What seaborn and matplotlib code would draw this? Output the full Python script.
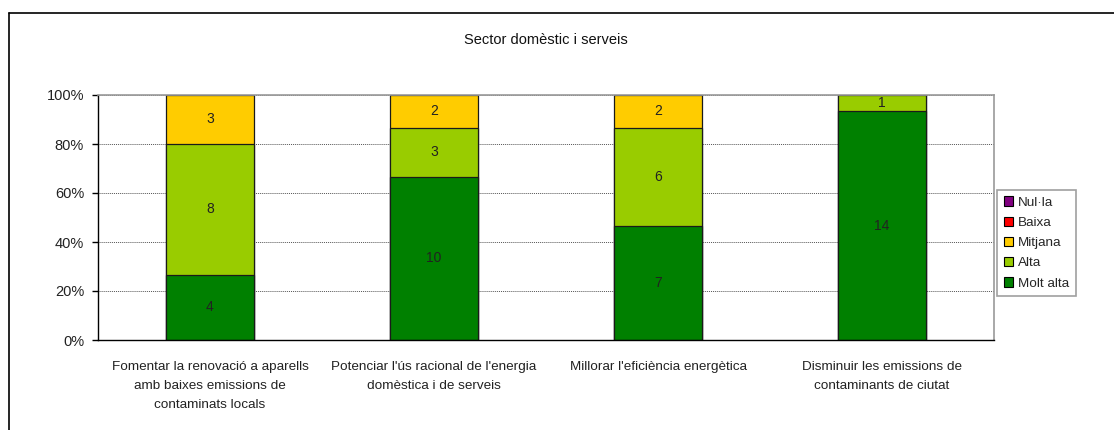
import numpy as np
import pandas as pd
import matplotlib
matplotlib.use("Agg")
import matplotlib.pyplot as plt
import seaborn as sns
from matplotlib.patches import Patch
from matplotlib.lines import Line2D
from matplotlib.ticker import FixedLocator, PercentFormatter

categories = [
    "Fomentar la renovació a aparells\namb baixes emissions de\ncontaminats locals",
    "Potenciar l'ús racional de l'energia\ndomèstica i de serveis",
    "Millorar l'eficiència energètica",
    "Disminuir les emissions de\ncontaminants de ciutat",
]
series_names = ["Nul·la", "Baixa", "Mitjana", "Alta", "Molt alta"]
nulla = [0, 0, 0, 0]
baixa = [0, 0, 0, 0]
mitjana = [3, 2, 2, 0]
alta = [8, 3, 6, 1]
molt_alta = [4, 10, 7, 14]
colors = {"Nul·la": "#800080", "Baixa": "#FF0000", "Mitjana": "#FFCC00",
          "Alta": "#99CC00", "Molt alta": "#008000"}
title = "Sector domèstic i serveis"

sns.set_style("white")
plt.rcParams["font.family"] = ["Liberation Sans", "DejaVu Sans"]

counts = pd.DataFrame({"Molt alta": molt_alta, "Alta": alta, "Mitjana": mitjana,
                       "Baixa": baixa, "Nul·la": nulla}, index=categories)
totals = counts.sum(axis=1)
pct = counts.div(totals, axis=0) * 100
cum = pct.cumsum(axis=1)

fig = plt.figure(figsize=(11.14, 4.30), dpi=100)
ax = fig.add_axes([98 / 1114, 1 - 340 / 430, 896 / 1114, 245 / 430])

order = ["Nul·la", "Baixa", "Mitjana", "Alta", "Molt alta"]
for s in order:
    df = pd.DataFrame({"cat": categories, "val": cum[s].values})
    if counts[s].sum() == 0:
        continue
    sns.barplot(data=df, x="cat", y="val", color=colors[s], saturation=1,
                width=0.39, edgecolor="#1a1a1a", linewidth=0.9, ax=ax, zorder=2)

# labels
for i, cat in enumerate(categories):
    base = 0
    for s in ["Molt alta", "Alta", "Mitjana", "Baixa", "Nul·la"]:
        v = counts.loc[cat, s]
        p = pct.loc[cat, s]
        if v > 0:
            ax.text(i, base + p / 2, str(v), ha="center", va="center",
                    fontsize=10, color="#222222", zorder=5)
        base += p

ax.set_xlim(-0.5, len(categories) - 0.5)
ax.set_ylim(0, 100)
ax.set_xlabel("")
ax.set_ylabel("")
ax.yaxis.set_major_locator(FixedLocator([0, 20, 40, 60, 80, 100]))
ax.yaxis.set_major_formatter(PercentFormatter(decimals=0))
ax.grid(axis="y", linestyle=(0, (1, 1)), color="#555555", linewidth=0.7, zorder=0)
ax.set_axisbelow(True)

ax.set_xticks(range(len(categories)))
ax.set_xticklabels(categories, fontsize=9.7, color="#222222", linespacing=1.8, va="top")
ax.tick_params(axis="x", which="major", length=0, pad=15)
ax.set_xticks(np.arange(-0.5, len(categories), 1.0), minor=True)
ax.tick_params(axis="x", which="minor", length=4, direction="out", color="black", width=1)
ax.tick_params(axis="y", length=4, direction="out", color="black", width=1, pad=6,
               labelsize=10.5, labelcolor="#222222", left=True)

for side in ["left", "bottom"]:
    ax.spines[side].set_color("black")
    ax.spines[side].set_linewidth(1.0)
for side in ["top", "right"]:
    ax.spines[side].set_visible(True)
    ax.spines[side].set_color("#999999")
    ax.spines[side].set_linewidth(1.2)

fig.text(546 / 1114, 1 - 40 / 430, title, ha="center", va="center", fontsize=10.5, color="#111111")

handles = [Patch(facecolor=colors[s], edgecolor="black", linewidth=0.8) for s in series_names]
leg = fig.legend(handles, series_names, loc="center left",
                 bbox_to_anchor=(997 / 1114, 1 - 243 / 430), frameon=True,
                 fancybox=False, fontsize=9.7, handlelength=0.7, handleheight=0.7,
                 handletextpad=0.35, labelspacing=0.58, borderpad=0.5, borderaxespad=0)
leg.get_frame().set_edgecolor("#888888")
leg.get_frame().set_linewidth(1.2)

# outer frame (left and top edges)
fig.add_artist(Line2D([8.5 / 1114, 8.5 / 1114], [0, 1 - 12.5 / 430], color="black", lw=1.2,
                      transform=fig.transFigure))
fig.add_artist(Line2D([8.5 / 1114, 1], [1 - 12.5 / 430, 1 - 12.5 / 430], color="black", lw=1.2,
                      transform=fig.transFigure))

fig.savefig("out.png", dpi=100)
